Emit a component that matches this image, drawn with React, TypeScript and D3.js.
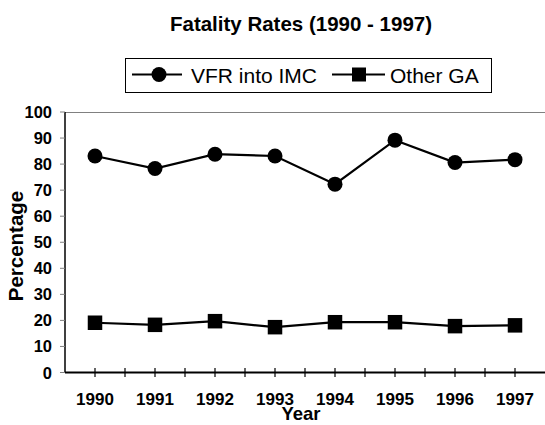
import { useEffect, useRef } from 'react';
import * as d3 from 'd3';

const years = ['1990', '1991', '1992', '1993', '1994', '1995', '1996', '1997'];
const vfrIntoImc = [83.1, 78.3, 83.8, 83.1, 72.3, 89.2, 80.6, 81.7];
const otherGa = [19.1, 18.3, 19.7, 17.4, 19.3, 19.3, 17.8, 18.1];
const yTicks = [0, 10, 20, 30, 40, 50, 60, 70, 80, 90, 100];

const FONT = 'Arial, "Liberation Sans", sans-serif';

export default function App() {
  const svgRef = useRef<SVGSVGElement>(null);

  useEffect(() => {
    if (!svgRef.current) return;
    const svg = d3.select(svgRef.current);
    svg.selectAll('*').remove();

    const W = 545, H = 425;
    const plot = { left: 65, right: 545, top: 112, bottom: 372.5 };

    const x = d3.scaleBand<string>().domain(years).range([plot.left, plot.right]).paddingInner(0).paddingOuter(0);
    const y = d3.scaleLinear().domain([0, 100]).range([plot.bottom, plot.top]);
    const cx = (d: string) => (x(d) ?? 0) + x.bandwidth() / 2;

    svg.append('rect').attr('width', W).attr('height', H).attr('fill', '#fff');

    // title
    svg.append('text')
      .attr('x', 301).attr('y', 31)
      .attr('text-anchor', 'middle')
      .attr('font-family', FONT).attr('font-weight', 'bold').attr('font-size', 20.5)
      .text('Fatality Rates (1990 - 1997)');

    // plot frame (top border, grey)
    svg.append('line')
      .attr('x1', plot.left).attr('x2', plot.right)
      .attr('y1', plot.top + 0.5).attr('y2', plot.top + 0.5)
      .attr('stroke', '#808080').attr('stroke-width', 1);

    // y axis
    svg.append('line')
      .attr('x1', plot.left).attr('x2', plot.left)
      .attr('y1', plot.top).attr('y2', plot.bottom)
      .attr('stroke', '#000').attr('stroke-width', 1.5);

    yTicks.forEach((t) => {
      svg.append('line')
        .attr('x1', plot.left - 5).attr('x2', plot.left)
        .attr('y1', y(t)).attr('y2', y(t))
        .attr('stroke', '#808080').attr('stroke-width', 1);
      svg.append('text')
        .attr('x', 52).attr('y', y(t) + 6)
        .attr('text-anchor', 'end')
        .attr('font-family', FONT).attr('font-weight', 'bold').attr('font-size', 16.5)
        .text(t);
    });

    // x axis
    svg.append('line')
      .attr('x1', plot.left).attr('x2', plot.right)
      .attr('y1', plot.bottom).attr('y2', plot.bottom)
      .attr('stroke', '#000').attr('stroke-width', 2);

    years.forEach((yr) => {
      const x0 = x(yr) ?? 0;
      [x0, cx(yr)].forEach((tx, i) => {
        if (i === 0 && yr === years[0]) return;
        svg.append('line')
          .attr('x1', tx).attr('x2', tx)
          .attr('y1', plot.bottom - 4.5).attr('y2', plot.bottom + 4.5)
          .attr('stroke', '#000').attr('stroke-width', 1.2);
      });
      svg.append('text')
        .attr('x', cx(yr)).attr('y', 404.5)
        .attr('text-anchor', 'middle')
        .attr('font-family', FONT).attr('font-weight', 'bold').attr('font-size', 17)
        .text(yr);
    });

    // axis titles
    svg.append('text')
      .attr('x', 301).attr('y', 420)
      .attr('text-anchor', 'middle')
      .attr('font-family', FONT).attr('font-weight', 'bold').attr('font-size', 18.5)
      .text('Year');

    svg.append('text')
      .attr('transform', `translate(23,${(190 + 302) / 2}) rotate(-90)`)
      .attr('text-anchor', 'middle')
      .attr('font-family', FONT).attr('font-weight', 'bold').attr('font-size', 20.5)
      .text('Percentage');

    // series
    const line = d3.line<number>()
      .x((_, i) => cx(years[i]))
      .y((d) => y(d));

    svg.append('path').datum(vfrIntoImc)
      .attr('d', line).attr('fill', 'none').attr('stroke', '#000').attr('stroke-width', 2.2);
    svg.append('path').datum(otherGa)
      .attr('d', line).attr('fill', 'none').attr('stroke', '#000').attr('stroke-width', 2.2);

    svg.selectAll('circle.vfr').data(vfrIntoImc).enter().append('circle')
      .attr('class', 'vfr')
      .attr('cx', (_, i) => cx(years[i])).attr('cy', (d) => y(d))
      .attr('r', 7.5).attr('fill', '#000');

    const S = 14.5;
    svg.selectAll('rect.ga').data(otherGa).enter().append('rect')
      .attr('class', 'ga')
      .attr('x', (_, i) => cx(years[i]) - S / 2).attr('y', (d) => y(d) - S / 2)
      .attr('width', S).attr('height', S).attr('fill', '#000');

    // legend
    const lg = svg.append('g');
    lg.append('rect')
      .attr('x', 125.5).attr('y', 58.5).attr('width', 366).attr('height', 34)
      .attr('fill', '#fff').attr('stroke', '#000').attr('stroke-width', 1);
    lg.append('line').attr('x1', 132).attr('x2', 182).attr('y1', 74.5).attr('y2', 74.5)
      .attr('stroke', '#000').attr('stroke-width', 2.2);
    lg.append('circle').attr('cx', 159).attr('cy', 74.5).attr('r', 7.5).attr('fill', '#000');
    lg.append('text').attr('x', 191).attr('y', 83)
      .attr('font-family', FONT).attr('font-size', 21).text('VFR into IMC');
    lg.append('line').attr('x1', 332).attr('x2', 385).attr('y1', 74.5).attr('y2', 74.5)
      .attr('stroke', '#000').attr('stroke-width', 2.2);
    lg.append('rect').attr('x', 359 - 7).attr('y', 74.5 - 7).attr('width', 14).attr('height', 14).attr('fill', '#000');
    lg.append('text').attr('x', 390).attr('y', 83)
      .attr('font-family', FONT).attr('font-size', 21).text('Other GA');
  }, []);

  return (
    <svg
      ref={svgRef}
      width={545}
      height={425}
      style={{ position: 'absolute', left: 0, top: 0 }}
      aria-label="Fatality Rates (1990 - 1997)"
      role="img"
    />
  );
}
